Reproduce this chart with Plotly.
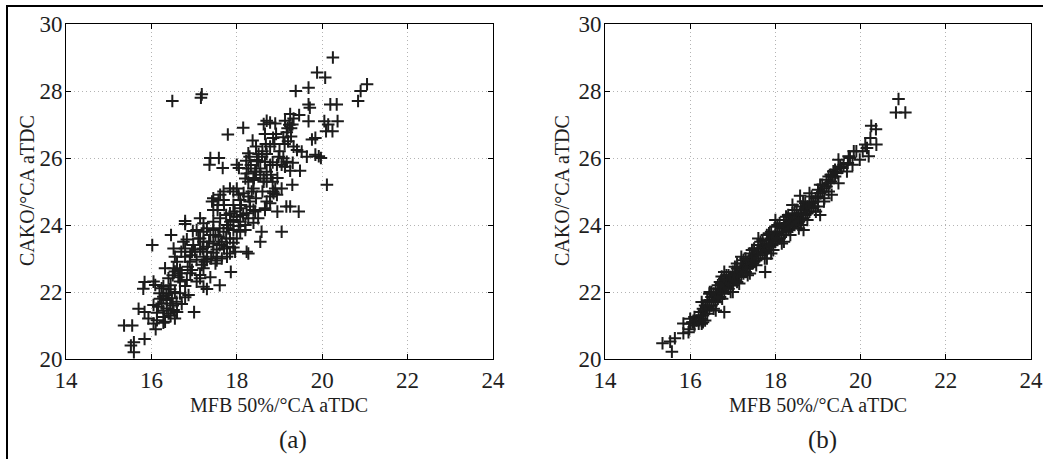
import plotly.graph_objects as go

# ---------------- data: panel (a) ----------------
xa = [15.36, 15.55, 15.52, 15.59, 15.59, 15.84, 15.70, 15.84, 15.81, 15.84, 16.02, 16.46, 16.49, 17.16, 17.18,
      17.79, 18.15, 17.38, 17.58, 17.36, 17.67, 18.00, 18.05, 20.25, 19.88, 20.07, 19.38, 19.68, 21.05, 20.90,
      20.84, 20.19, 20.34, 19.68, 19.71, 20.36, 20.05, 20.14, 20.09, 20.24, 19.68, 20.11, 19.92, 19.97, 19.84,
      19.84, 19.76, 19.45, 19.25, 19.16, 19.05, 18.55, 18.58, 18.27, 18.23, 18.95, 19.30,
      19.25, 19.46, 19.33, 18.70, 19.13, 18.78, 18.63, 18.90, 19.23, 19.19, 19.27, 18.66, 19.17, 18.92,
      18.37, 19.09, 19.27, 18.68, 18.88, 19.12, 18.45, 18.78, 19.33, 19.41, 18.27, 18.51, 18.70, 19.52, 19.64,
      18.30, 18.59, 18.98, 19.09, 18.22, 18.47, 18.66, 18.84, 19.17, 19.31, 18.33, 18.78, 18.94, 19.13,
      18.27, 18.55, 19.25, 19.48, 18.23, 18.43, 18.70, 18.20, 18.39, 18.63, 18.27, 18.63, 18.84,
      17.84, 18.00, 18.39, 18.90, 19.05, 17.69, 17.92, 18.16, 18.86, 17.61, 18.04, 18.27, 18.78, 18.94,
      17.45, 17.69, 18.08, 17.42, 17.57, 18.70, 18.78, 17.55, 17.92, 18.31, 18.66, 17.45, 18.08, 18.39, 18.66,
      17.84, 18.23, 18.43, 17.14, 17.61, 17.92, 18.27, 18.00, 16.79, 17.45, 18.08, 18.39, 16.79, 17.22, 17.77, 18.04,
      17.06, 17.45, 17.92, 16.97, 17.22, 17.69, 18.08, 18.20, 17.38, 17.57, 16.83, 17.14, 17.84, 18.00,
      16.75, 17.22, 17.45, 17.65, 17.92, 16.98, 17.30, 17.77, 17.92, 16.52, 16.79, 17.14, 17.53,
      17.02, 17.45, 17.84, 17.96, 16.55, 16.79, 16.91, 17.22, 17.53, 17.77, 17.06, 17.30, 17.53, 17.50, 17.18,
      16.32, 16.52, 16.67, 16.95, 17.22, 16.55, 16.71, 16.91, 17.86, 17.14, 16.40, 16.63, 16.83, 17.14, 17.38,
      16.05, 17.06, 16.67, 16.09, 16.28, 16.79, 17.22, 17.60, 16.24, 16.44, 17.30, 16.19, 16.40, 16.67, 16.87,
      16.28, 16.48, 16.79, 16.36, 16.59, 16.24, 16.44, 16.71, 16.05, 16.16, 16.36, 16.28, 16.52, 16.13, 16.40, 17.00,
      15.93, 16.13, 16.32, 16.55, 16.05, 16.28, 16.10,
      17.30, 17.35, 17.40, 17.60, 17.65, 17.70, 17.75, 17.80, 17.85, 17.95, 18.10, 18.15, 18.20, 18.30, 18.35,
      18.40, 18.45, 18.50, 18.45, 18.50, 17.55, 17.70, 17.75, 17.60, 17.50, 17.30, 17.20, 17.10, 17.25, 16.90,
      16.95, 16.70, 16.85, 16.60, 16.50, 16.45, 16.55, 16.35, 16.50, 16.60, 16.45, 16.30, 16.20, 18.55, 18.60,
      18.70, 18.80, 18.85, 18.95, 19.00, 19.05, 18.60, 18.85, 19.20, 19.30]
ya = [21.00, 21.00, 20.40, 20.50, 20.20, 20.60, 21.50, 21.40, 22.10, 22.30, 23.40, 23.70, 27.70, 27.80, 27.90,
      26.70, 26.90, 26.00, 26.00, 25.80, 25.70, 25.80, 25.70, 29.00, 28.55, 28.40, 28.00, 28.10, 28.20, 28.00,
      27.70, 27.60, 27.60, 27.60, 27.50, 27.10, 27.10, 27.00, 26.80, 26.80, 27.10, 25.20, 26.05, 26.00, 26.10,
      26.60, 26.55, 24.40, 24.55, 24.55, 23.80, 23.50, 23.80, 23.15, 23.20, 24.40, 25.20,
      27.31, 27.28, 27.18, 27.11, 27.11, 27.06, 27.01, 27.03, 26.99, 26.89, 26.89, 26.72, 26.77, 26.72,
      26.52, 26.62, 26.64, 26.42, 26.42, 26.42, 26.34, 26.34, 26.34, 26.24, 26.14, 26.12, 26.12, 26.19, 26.04,
      26.04, 26.04, 26.04, 25.99, 25.92, 25.94, 25.89, 25.87, 25.89, 25.86, 25.79, 25.79, 25.79, 25.74,
      25.69, 25.69, 25.62, 25.62, 25.54, 25.59, 25.59, 25.39, 25.34, 25.39, 25.29, 25.29, 25.29,
      25.09, 25.09, 25.09, 25.09, 25.09, 25.00, 25.00, 24.95, 24.95, 24.90, 24.90, 24.85, 24.85, 24.90,
      24.80, 24.75, 24.75, 24.70, 24.75, 24.70, 24.65, 24.60, 24.60, 24.55, 24.50, 24.45, 24.50, 24.45, 24.45,
      24.35, 24.35, 24.40, 24.20, 24.20, 24.15, 24.20, 24.25, 24.12, 24.10, 24.10, 24.07, 24.03, 24.05, 24.00, 23.97,
      23.85, 23.85, 23.85, 23.82, 23.80, 23.80, 23.80, 23.85, 23.70, 23.65, 23.57, 23.60, 23.60, 23.60,
      23.50, 23.50, 23.45, 23.50, 23.47, 23.40, 23.35, 23.35, 23.33, 23.30, 23.30, 23.27, 23.27,
      23.20, 23.17, 23.15, 23.20, 23.05, 23.05, 23.10, 23.05, 23.05, 23.05, 22.96, 22.96, 22.94, 22.85, 22.81,
      22.71, 22.71, 22.66, 22.66, 22.71, 22.61, 22.56, 22.56, 22.60, 22.51, 22.41, 22.44, 22.36, 22.41, 22.44,
      22.31, 22.31, 22.31, 22.21, 22.18, 22.18, 22.16, 22.20, 22.11, 22.08, 22.09, 21.96, 21.96, 21.96, 21.91,
      21.86, 21.81, 21.84, 21.76, 21.71, 21.66, 21.66, 21.64, 21.61, 21.56, 21.51, 21.44, 21.46, 21.38, 21.36, 21.40,
      21.21, 21.16, 21.11, 21.21, 21.06, 21.08, 20.89,
      23.20, 23.50, 23.00, 23.40, 23.00, 23.30, 23.60, 23.90, 24.10, 24.40, 24.60, 24.30, 24.00, 24.70, 25.00,
      25.40, 25.60, 25.90, 24.80, 24.20, 24.45, 24.60, 24.30, 23.90, 23.70, 23.90, 23.30, 23.60, 22.90, 22.90,
      23.20, 23.20, 22.75, 22.90, 22.50, 22.20, 22.00, 21.90, 21.60, 21.40, 21.30, 21.25, 21.80, 25.50, 25.00,
      25.30, 25.50, 25.00, 25.40, 26.20, 25.80, 26.20, 26.60, 26.50, 27.00]

# ---------------- data: panel (b) ----------------
xb = [20.89, 20.83, 21.05, 20.25, 20.36, 20.23, 20.37, 20.11, 20.15, 20.05, 20.19, 19.98, 19.84, 19.72, 19.81,
      19.48, 19.52, 19.68, 19.36, 19.48, 19.32, 19.14, 19.05, 18.58, 18.66, 17.76, 16.80, 15.35, 15.53, 15.57,
      15.64, 15.84, 15.96, 15.84, 16.07, 16.27, 16.27, 16.74, 16.46, 15.98, 19.73,
      16.00, 16.00, 16.05, 16.10, 16.10, 16.15, 16.20, 16.20, 16.25, 16.25, 16.30, 16.30, 16.30, 16.35, 16.35,
      16.40, 16.40, 16.40, 16.45, 16.45, 16.50, 16.50, 16.50, 16.55, 16.55, 16.60, 16.60, 16.60, 16.65, 16.65,
      16.70, 16.70, 16.70, 16.75, 16.75, 16.80, 16.80, 16.80, 16.85, 16.85, 16.90, 16.90, 16.90, 16.95, 16.95,
      17.00, 17.00, 17.00, 17.05, 17.05, 17.10, 17.10, 17.10, 17.15, 17.15, 17.20, 17.20, 17.20, 17.25, 17.25,
      17.30, 17.30, 17.30, 17.35, 17.35, 17.40, 17.40, 17.40, 17.45, 17.45, 17.50, 17.50, 17.50, 17.55, 17.55,
      17.60, 17.60, 17.60, 17.65, 17.65, 17.70, 17.70, 17.70, 17.75, 17.75, 17.80, 17.80, 17.80, 17.85, 17.85,
      17.90, 17.90, 17.90, 17.95, 17.95, 18.00, 18.00, 18.00, 18.05, 18.05, 18.10, 18.10, 18.10, 18.15, 18.15,
      18.20, 18.20, 18.20, 18.25, 18.25, 18.30, 18.30, 18.30, 18.35, 18.35, 18.40, 18.40, 18.40, 18.45, 18.45,
      18.50, 18.50, 18.50, 18.55, 18.55, 18.60, 18.60, 18.60, 18.65, 18.65, 18.70, 18.70, 18.70, 18.75, 18.75,
      18.80, 18.80, 18.85, 18.85, 18.90, 18.90, 18.95, 19.00, 19.00, 19.05, 19.10, 19.10, 19.15, 19.20, 19.20,
      19.25, 19.25, 19.30, 19.30, 19.35, 19.40, 19.40, 19.45, 19.55, 19.60, 19.70, 19.75, 19.90,
      16.35, 16.45, 16.55, 16.65, 16.75, 16.85, 16.95, 17.05, 17.15, 17.25, 17.35, 17.45, 17.55, 17.65, 17.75,
      17.85, 17.95, 18.05, 18.15, 18.25, 18.35, 18.45, 18.55, 18.65, 18.75, 18.85, 18.95, 19.05, 19.15, 19.25,
      16.60, 16.80, 17.00, 17.20, 17.40, 17.60, 17.80, 18.00, 18.20, 18.40, 18.60, 18.80, 19.00, 17.10, 17.90]
yb = [27.76, 27.36, 27.36, 26.96, 26.86, 26.60, 26.40, 26.40, 26.30, 26.20, 26.05, 25.95, 26.20, 26.05, 25.80,
      25.95, 25.75, 25.60, 25.60, 25.25, 24.90, 24.70, 24.30, 24.87, 23.85, 22.60, 21.40, 20.47, 20.52, 20.22,
      20.62, 20.77, 20.80, 21.06, 21.10, 21.05, 21.70, 22.46, 22.00, 20.89, 26.04,
      21.05, 21.20, 21.10, 21.00, 21.25, 21.15, 21.30, 21.05, 21.40, 21.20, 21.50, 21.30, 21.10, 21.45, 21.60,
      21.55, 21.35, 21.75, 21.70, 21.50, 21.85, 21.60, 22.00, 21.75, 21.95, 21.90, 21.70, 22.10, 22.00, 21.80,
      22.10, 21.85, 22.30, 22.05, 22.25, 22.20, 21.95, 22.40, 22.15, 22.35, 22.30, 22.10, 22.50, 22.25, 22.45,
      22.40, 22.20, 22.60, 22.35, 22.55, 22.50, 22.30, 22.70, 22.60, 22.45, 22.65, 22.45, 22.85, 22.75, 22.55,
      22.80, 22.60, 23.00, 22.90, 22.70, 22.95, 22.75, 23.15, 23.05, 22.85, 23.10, 22.90, 23.30, 23.15, 22.95,
      23.20, 23.00, 23.40, 23.30, 23.10, 23.35, 23.15, 23.55, 23.40, 23.20, 23.45, 23.25, 23.70, 23.55, 23.35,
      23.60, 23.40, 23.80, 23.65, 23.45, 23.70, 23.50, 23.95, 23.75, 23.55, 23.80, 23.60, 24.05, 23.90, 23.70,
      23.95, 23.70, 24.15, 24.00, 23.80, 24.05, 23.85, 24.30, 24.10, 23.90, 24.15, 23.95, 24.35, 24.20, 24.00,
      24.25, 24.05, 24.45, 24.30, 24.10, 24.35, 24.15, 24.55, 24.45, 24.20, 24.50, 24.30, 24.65, 24.55, 24.35,
      24.60, 24.40, 24.65, 24.50, 24.70, 24.55, 24.80, 24.85, 25.05, 24.95, 25.00, 25.20, 25.10, 25.15, 25.35,
      25.25, 25.00, 25.30, 25.50, 25.45, 25.45, 25.65, 25.55, 25.70, 25.80, 25.85, 26.00, 26.20,
      21.15, 21.95, 21.50, 22.20, 21.80, 22.50, 22.00, 22.75, 22.25, 22.95, 22.50, 23.25, 22.80, 23.50, 23.00,
      23.75, 23.25, 24.00, 23.45, 24.25, 23.70, 24.45, 23.90, 24.70, 24.15, 24.85, 24.40, 25.20, 24.80, 25.45,
      21.45, 22.60, 22.00, 23.05, 22.55, 23.60, 23.00, 24.15, 23.50, 24.60, 24.00, 24.95, 24.55, 22.85, 23.15]

x_ticks = [14, 16, 18, 20, 22, 24]
y_ticks = [20, 22, 24, 26, 28, 30]
x_title = "MFB 50%/°CA aTDC"
y_title = "CAKO/°CA aTDC"
panel_labels = ["(a)", "(b)"]

W, H = 1043, 459
FONT = "Liberation Serif, Times New Roman, serif"
TXT = "#1e1e1e"

fig = go.Figure()
marker = dict(symbol="cross-thin", size=9, line=dict(width=2, color="#1c1c1c"), color="#1c1c1c")
fig.add_trace(go.Scatter(x=xa, y=ya, mode="markers", marker=marker, xaxis="x", yaxis="y", showlegend=False))
fig.add_trace(go.Scatter(x=xb, y=yb, mode="markers", marker=marker, xaxis="x2", yaxis="y2", showlegend=False))

# pixel geometry of the two plot boxes
boxes = [(66, 493), (605, 1031)]
top_px, bot_px = 24, 359
ydom = [(H - bot_px) / H, (H - top_px) / H]

axis_common = dict(
    showline=True, linecolor="black", linewidth=1, mirror="ticks", automargin=False,
    ticks="inside", ticklen=5, tickcolor="black", tickwidth=1,
    showgrid=True, gridcolor="#b4b4b4", griddash="1px,3px", gridwidth=1,
    zeroline=False, tickfont=dict(family=FONT, size=23, color=TXT),
)
lay = {}
for i, (l, r) in enumerate(boxes):
    sx = "" if i == 0 else "2"
    lay["xaxis" + sx] = dict(axis_common, range=[14, 24], tickvals=x_ticks, domain=[l / W, r / W],
                             anchor="y" + sx)
    lay["yaxis" + sx] = dict(axis_common, range=[20, 30], tickvals=y_ticks, domain=ydom,
                             anchor="x" + sx, ticklabelstandoff=-2)

annotations = []
xcent = [279, 818]
ytitle_x = [27, 562]
lab_x = [293, 822]
for i in range(2):
    annotations.append(dict(x=xcent[i] / W, y=1 - 405 / H, xref="paper", yref="paper", text=x_title,
                            showarrow=False, font=dict(family=FONT, size=20, color=TXT),
                            xanchor="center", yanchor="middle"))
    annotations.append(dict(x=ytitle_x[i] / W, y=1 - 191 / H, xref="paper", yref="paper", text=y_title,
                            showarrow=False, textangle=-90, font=dict(family=FONT, size=20, color=TXT),
                            xanchor="center", yanchor="middle"))
    annotations.append(dict(x=lab_x[i] / W, y=1 - 440 / H, xref="paper", yref="paper", text=panel_labels[i],
                            showarrow=False, font=dict(family=FONT, size=25, color=TXT),
                            xanchor="center", yanchor="middle"))

fig.update_layout(
    width=W, height=H, margin=dict(l=0, r=0, t=0, b=0, autoexpand=False),
    paper_bgcolor="white", plot_bgcolor="white",
    annotations=annotations,
    shapes=[dict(type="rect", xref="paper", yref="paper", x0=7 / W, x1=1.02, y0=-0.05, y1=1 - 6 / H,
                 line=dict(color="black", width=2), fillcolor="rgba(0,0,0,0)", layer="above")],
    **lay,
)
fig.write_html("out.html")
